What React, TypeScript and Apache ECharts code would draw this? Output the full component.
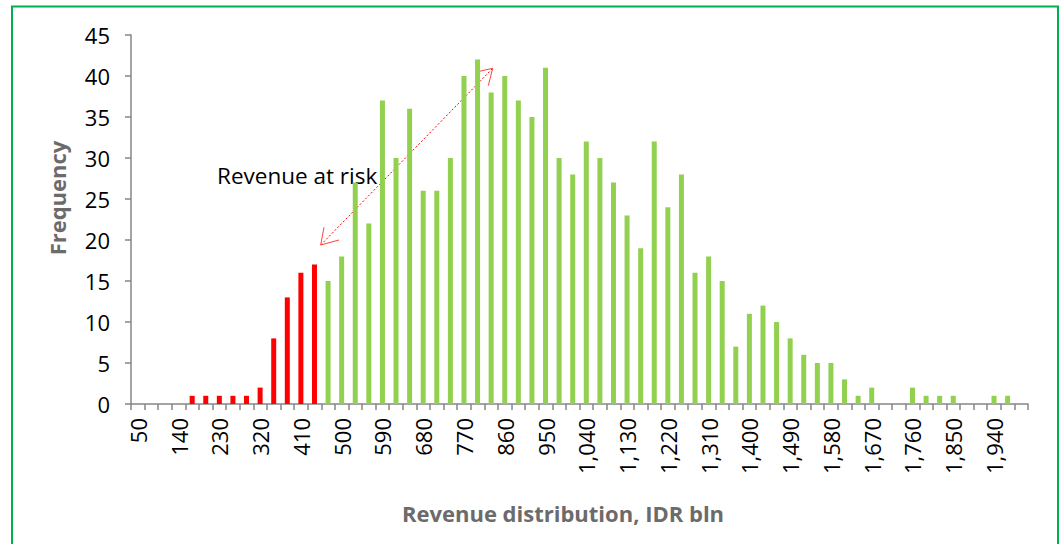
import React, { useEffect, useRef } from "react";
import * as echarts from "echarts";

// Revenue bins (IDR bln)
const categories = [
  50, 80, 110, 140, 170, 200, 230, 260, 290, 320, 350, 380, 410, 440,
  470, 500, 530, 560, 590, 620, 650, 680, 710, 740, 770, 800, 830, 860,
  890, 920, 950, 980, 1010, 1040, 1070, 1100, 1130, 1160, 1190, 1220,
  1250, 1280, 1310, 1340, 1370, 1400, 1430, 1460, 1490, 1520, 1550, 1580,
  1610, 1640, 1670, 1700, 1730, 1760, 1790, 1820, 1850, 1880, 1910, 1940,
  1970, 2000,
];

// Frequencies per bin
const frequency = [
  0, 0, 0, 0, 1, 1, 1, 1, 1, 2, 8, 13, 16, 17,
  15, 18, 27, 22, 37, 30, 36, 26, 26, 30, 40, 42, 38, 40,
  37, 35, 41, 30, 28, 32, 30, 27, 23, 19, 32, 24,
  28, 16, 18, 15, 7, 11, 12, 10, 8, 6, 5, 5,
  3, 1, 2, 0, 0, 2, 1, 1, 1, 0, 0, 1,
  1, 0,
];

// Bins up to and including this revenue are "at risk" (red)
const riskThreshold = 440;

const yTicks = { min: 0, max: 45, interval: 5 };

const FONT = "'Open Sans', 'Noto Sans', sans-serif";

export default function App() {
  const ref = useRef<HTMLDivElement>(null);

  useEffect(() => {
    if (!ref.current) return;
    const chart = echarts.init(ref.current, null, { renderer: "svg" });
    const data = frequency.map((v, i) => ({
      value: v,
      itemStyle: { color: categories[i] <= riskThreshold ? "#FF0000" : "#92D050" },
    }));
    chart.setOption({
      animation: false,
      backgroundColor: "#ffffff",
      grid: { left: 131, right: 36, top: 35, bottom: 140, containLabel: false },
      xAxis: {
        type: "category",
        data: categories,
        boundaryGap: true,
        axisLine: { show: true, lineStyle: { color: "#868686", width: 1.5 } },
        axisTick: { show: true, interval: 0, length: 6, lineStyle: { color: "#868686", width: 1.5 } },
        axisLabel: {
          interval: 2,
          rotate: 90,
          margin: 14,
          fontSize: 22,
          fontFamily: FONT,
          color: "#000000",
          formatter: (v: string) => Number(v).toLocaleString("en-US"),
        },
        splitLine: { show: false },
      },
      yAxis: {
        type: "value",
        min: yTicks.min,
        max: yTicks.max,
        interval: yTicks.interval,
        axisLine: { show: true, lineStyle: { color: "#868686", width: 1.5 } },
        axisTick: { show: true, length: 6, lineStyle: { color: "#868686", width: 1.5 } },
        axisLabel: { margin: 21, fontSize: 22, fontFamily: FONT, color: "#000000" },
        splitLine: { show: false },
      },
      series: [
        {
          type: "bar",
          data,
          barWidth: 5,
        },
      ],
      graphic: [
        {
          type: "rect",
          shape: { x: 12, y: 6.5, width: 1046, height: 600 },
          style: { fill: "none", stroke: "#00B050", lineWidth: 2 },
          silent: true,
        },
        {
          type: "text",
          x: 57,
          y: 198,
          rotation: Math.PI / 2,
          style: {
            text: "Frequency",
            fontSize: 22,
            fontWeight: "bold",
            fontFamily: FONT,
            fill: "#6B6B6B",
            align: "center",
            verticalAlign: "middle",
          },
        },
        {
          type: "text",
          x: 563,
          y: 513,
          style: {
            text: "Revenue distribution, IDR bln",
            fontSize: 22,
            fontWeight: "bold",
            fontFamily: FONT,
            fill: "#6B6B6B",
            align: "center",
            verticalAlign: "middle",
          },
        },
        {
          type: "text",
          x: 217,
          y: 175,
          style: {
            text: "Revenue at risk",
            fontSize: 22.5,
            fontFamily: FONT,
            fill: "#000000",
            align: "left",
            verticalAlign: "middle",
          },
        },
        {
          type: "line",
          shape: { x1: 320.7, y1: 245, x2: 492.7, y2: 68.3 },
          style: { stroke: "#FF0000", lineWidth: 1, lineDash: [2, 2] },
        },
        {
          type: "polyline",
          shape: { points: [[475, 72.3], [492.7, 68.3], [488.3, 85.7]] },
          style: { stroke: "#FF4040", lineWidth: 1, fill: "none" },
        },
        {
          type: "polyline",
          shape: { points: [[324, 227.3], [320.7, 245], [339, 240]] },
          style: { stroke: "#FF4040", lineWidth: 1, fill: "none" },
        },
      ],
    });
    return () => chart.dispose();
  }, []);

  return (
    <div
      ref={ref}
      style={{ position: "absolute", left: 0, top: 0, width: 1064, height: 544 }}
    />
  );
}
